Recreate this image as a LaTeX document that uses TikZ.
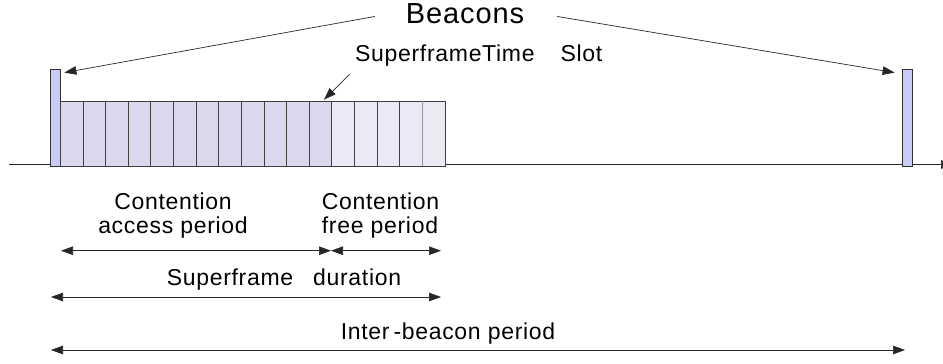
\documentclass[tikz,border=0pt]{standalone}
\usepackage{fontspec}
\setmainfont[LetterSpace=3]{Liberation Sans}
\usetikzlibrary{arrows.meta,calc}
\definecolor{beacon}{HTML}{CACAF8}
\definecolor{capslot}{HTML}{DAD8EC}
\definecolor{cfpslot}{HTML}{EAEAF6}
\begin{document}
\begin{tikzpicture}[x=1pt,y=-1pt,
  lbl/.style={inner sep=0pt, anchor=base, font=\fontsize{23}{24}\selectfont},
  tip/.style={-{Triangle[length=12pt,width=8.5pt]}},
  dtip/.style={{Triangle[length=12pt,width=8.5pt]}-{Triangle[length=12pt,width=8.5pt]}},
  thin line/.style={line width=0.7pt, draw=black!85},
  beaconbox/.style={draw=black!80, fill=beacon, line width=0.8pt, inner sep=0pt, minimum width=9.6pt, minimum height=97pt},
  slotbox/.style={draw=black!75, line width=0.8pt, inner sep=0pt, minimum width=22.63pt, minimum height=65pt}]
\useasboundingbox (0,0) rectangle (943,364);
\clip (0,0) rectangle (943,364);
% timeline
\coordinate (tl0) at (9,164.5);
\coordinate (tl1) at (953,164.5);
\draw[thin line, tip] (tl0) -- (tl1);
% beacons
\node[beaconbox] (lb) at (55.15,117.5) {};
\node[beaconbox] (rb) at (907.5,117.5) {};
% slots
\foreach \i in {0,...,16}{
  \ifnum\i<12 \def\slotfill{capslot}\else\def\slotfill{cfpslot}\fi
  \node[slotbox, fill=\slotfill] (slot\i) at ({60.3+22.63*(\i+0.5)},133.5) {};
}
\draw[line width=0.8pt, black!40] (slot16.north west) -- (slot16.south west);
% top labels
\node[inner sep=0pt, anchor=base, font=\fontsize{29}{30}\selectfont] (beacons) at (465,23.3) {Beacons};
\draw[thin line, tip] ($(beacons.west)+(-31,3)$) -- ($(lb.north east)+(4,4)$);
\draw[thin line, tip] ($(beacons.east)+(33,3)$) -- ($(rb.north west)+(-7.7,4)$);
\node[lbl, anchor=base west] (slotlbl) at (355,61) {SuperframeTime\hspace{26pt}Slot};
\draw[thin line, tip] ($(slotlbl.base west)+(-5,13)$) -- ($(slot11.north)+(3.5,-1)$);
% bottom labels
\node[lbl] (cap1) at (173,209.5) {Contention};
\node[lbl] (cap2) at (173,233) {access period};
\node[lbl] (cfp1) at (380.5,209.5) {Contention};
\node[lbl] (cfp2) at (380,233) {free period};
\coordinate (capL) at (61,250.7);
\coordinate (capR) at (331,250.7);
\coordinate (cfpR) at (441,250.7);
\draw[thin line, dtip] (capL) -- (capR);
\draw[thin line, dtip] (capR) -- (cfpR);
\node[lbl] (sfd) at (284,285) {Superframe\hspace{20pt}duration};
\coordinate (sfdL) at (51,297);
\coordinate (sfdR) at (441,297);
\draw[thin line, dtip] (sfdL) -- (sfdR);
\node[lbl] (ibp) at (448,339) {Inter\hspace{4pt}-beacon period};
\coordinate (ibpL) at (51,350);
\coordinate (ibpR) at (905,350);
\draw[thin line, dtip] (ibpL) -- (ibpR);
\end{tikzpicture}
\end{document}
